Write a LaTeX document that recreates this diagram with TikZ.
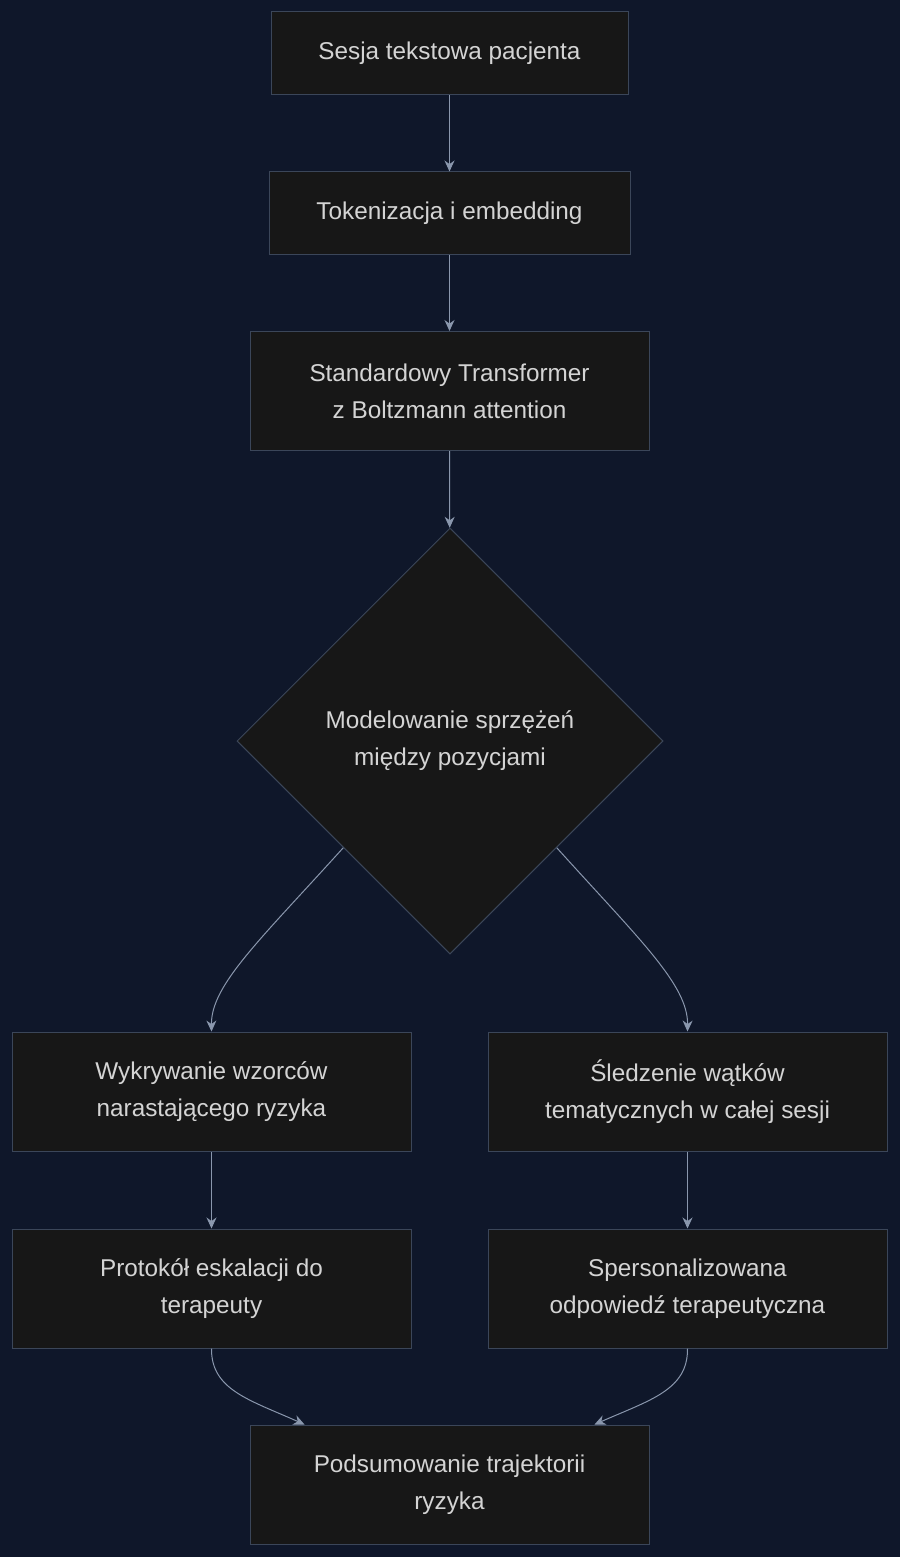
\documentclass[tikz,border=0pt]{standalone}
\usepackage{fontspec}
\setmainfont{Liberation Sans}
\usetikzlibrary{shapes.geometric,arrows.meta}
\definecolor{bg}{HTML}{0F172A}
\definecolor{nodefill}{HTML}{171717}
\definecolor{nodeline}{HTML}{3B4659}
\definecolor{txt}{HTML}{D4D4D4}
\definecolor{edge}{HTML}{8A97AD}
\begin{document}
\begin{tikzpicture}[x=1pt,y=-1pt,
  box/.style={draw=nodeline,fill=nodefill,text=txt,line width=1pt,align=center,
    font=\fontsize{24.3}{37}\selectfont,inner sep=0pt},
  dia/.style={diamond,draw=nodeline,fill=nodefill,text=txt,line width=1pt,align=center,
    font=\fontsize{24.3}{37}\selectfont,minimum width=426pt,minimum height=426pt,inner sep=0pt},
  arr/.style={draw=edge,line width=1pt,-{Stealth[length=11pt,width=10pt]}}]
\fill[bg] (0,0) rectangle (900,1557);
\useasboundingbox (0,0) rectangle (900,1557);
\node[box,minimum width=357pt,minimum height=83pt] (A) at (449.5,53.5) {Sesja tekstowa pacjenta};
\node[box,minimum width=361pt,minimum height=82pt] (B) at (449.5,213) {Tokenizacja i embedding};
\node[box,minimum width=399pt,minimum height=119pt] (C) at (449.5,391) {Standardowy Transformer\\z Boltzmann attention};
\node[dia] (D) at (450,741) {Modelowanie sprzężeń\\między pozycjami};
\node[box,minimum width=399pt,minimum height=119pt] (E) at (211.5,1091.5) {Wykrywanie wzorców\\narastającego ryzyka};
\node[box,minimum width=399pt,minimum height=119pt] (F) at (687.5,1091.5) {Śledzenie wątków\\tematycznych w całej sesji};
\node[box,minimum width=399pt,minimum height=119pt] (G) at (211.5,1288.5) {Protokół eskalacji do\\terapeuty};
\node[box,minimum width=399pt,minimum height=119pt] (H) at (687.5,1288.5) {Spersonalizowana\\odpowiedź terapeutyczna};
\node[box,minimum width=399pt,minimum height=119pt] (I) at (449.5,1484.5) {Podsumowanie trajektorii\\ryzyka};
\draw[arr] (A) -- (B);
\draw[arr] (B) -- (C);
\draw[arr] (C) -- (D);
\draw[arr] (D.south west) .. controls (260,940) and (211,985) .. (E.north);
\draw[arr] (D.south east) .. controls (640,940) and (688,985) .. (F.north);
\draw[arr] (E) -- (G);
\draw[arr] (F) -- (H);
\draw[arr] (G.south) .. controls (211,1390) and (250,1400) .. ([xshift=55pt]I.north west);
\draw[arr] (H.south) .. controls (688,1390) and (650,1400) .. ([xshift=-55pt]I.north east);
\end{tikzpicture}
\end{document}
